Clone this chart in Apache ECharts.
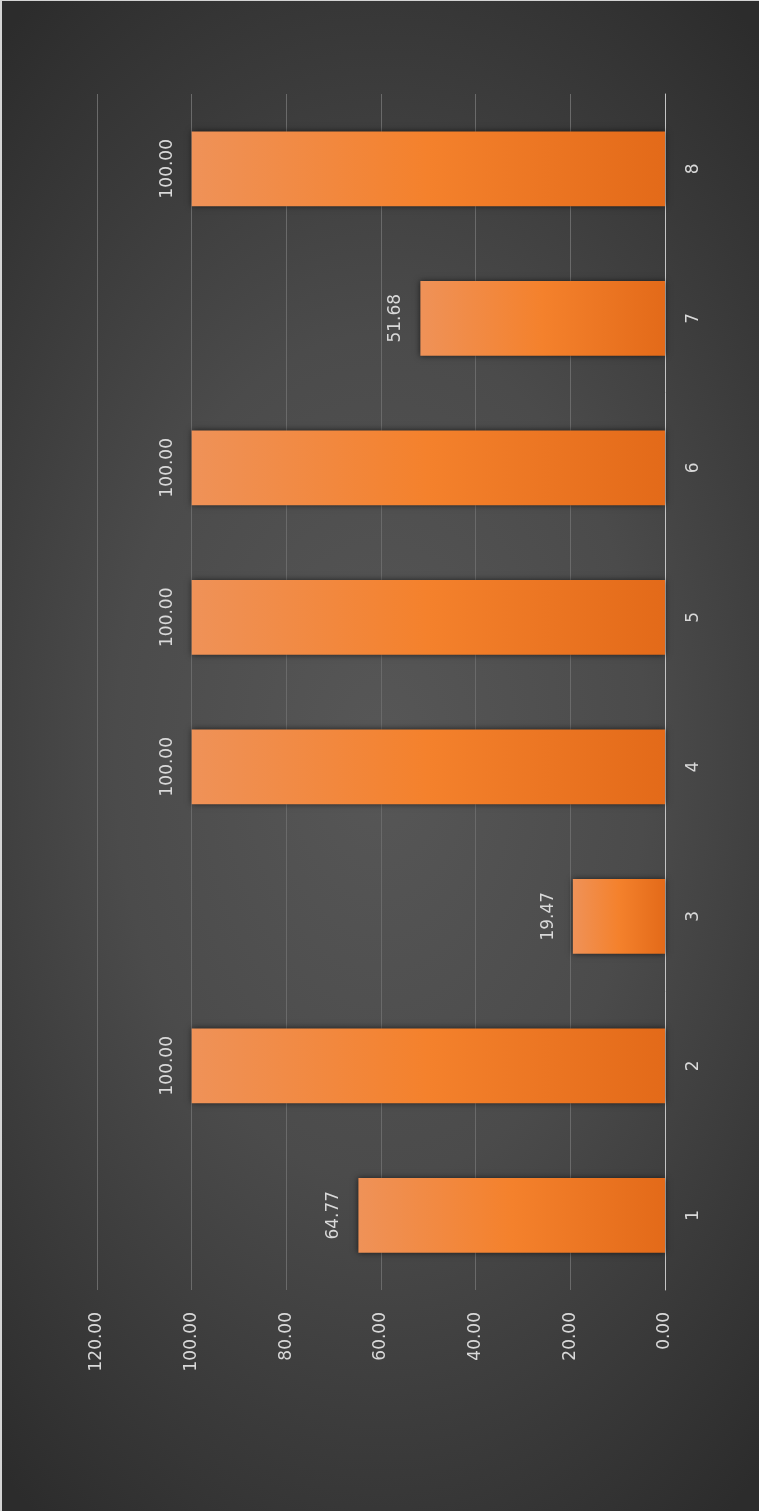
<!DOCTYPE html>
<html>
<head>
<meta charset="utf-8">
<script src="https://cdn.jsdelivr.net/npm/echarts@6/dist/echarts.min.js"></script>
<style>
  html, body { margin: 0; padding: 0; background: #d4d4d4; }
  #chart {
    position: absolute; left: 2px; top: 1px; width: 757px; height: 1510px;
    background: radial-gradient(ellipse 78% 62% at 50% 50%, #575757 0%, #4b4b4b 45%, #3a3a3a 75%, #2c2c2c 100%);
  }
</style>
</head>
<body>
<div id="chart"></div>
<script>
// Category names (bottom to top) and their values
const categories = ['1', '2', '3', '4', '5', '6', '7', '8'];
const values = [64.77, 100.00, 19.47, 100.00, 100.00, 100.00, 51.68, 100.00];
// Value axis range
const axisMin = 0;
const axisMax = 120;
const axisStep = 20;

const textColor = '#d9d9d9';
const fontFamily = 'DejaVu Sans';
const fmt = v => Number(v).toFixed(2);

const chart = echarts.init(document.getElementById('chart'), null, { renderer: 'canvas' });

chart.setOption({
  backgroundColor: 'transparent',
  animation: false,
  grid: { left: 95, right: 94, top: 93, bottom: 221, containLabel: false },
  xAxis: {
    type: 'value',
    inverse: true,
    position: 'bottom',
    min: axisMin,
    max: axisMax,
    interval: axisStep,
    axisLine: { show: false },
    axisTick: { show: false },
    splitLine: { show: true, lineStyle: { color: '#6a6a6a', width: 1 } },
    axisLabel: {
      rotate: 90,
      margin: 22,
      color: textColor,
      fontFamily: fontFamily,
      fontSize: 17,
      formatter: fmt
    }
  },
  yAxis: {
    type: 'category',
    position: 'right',
    data: categories,
    axisLine: { show: true, lineStyle: { color: '#c4c4c4', width: 1 } },
    axisTick: { show: false },
    splitLine: { show: false },
    axisLabel: {
      rotate: 90,
      margin: 20,
      color: textColor,
      fontFamily: fontFamily,
      fontSize: 17
    }
  },
  series: [{
    type: 'bar',
    data: values,
    barWidth: '50%',
    itemStyle: {
      color: new echarts.graphic.LinearGradient(0, 0, 1, 0, [
        { offset: 0, color: '#ef9258' },
        { offset: 0.5, color: '#f4812c' },
        { offset: 1, color: '#e36a19' }
      ]),
      shadowColor: 'rgba(0,0,0,0.6)',
      shadowBlur: 6
    },
    label: {
      show: true,
      position: 'left',
      distance: 16,
      rotate: 90,
      align: 'center',
      verticalAlign: 'bottom',
      color: textColor,
      fontFamily: fontFamily,
      fontSize: 17,
      formatter: p => fmt(p.value)
    }
  }]
});
</script>
</body>
</html>
